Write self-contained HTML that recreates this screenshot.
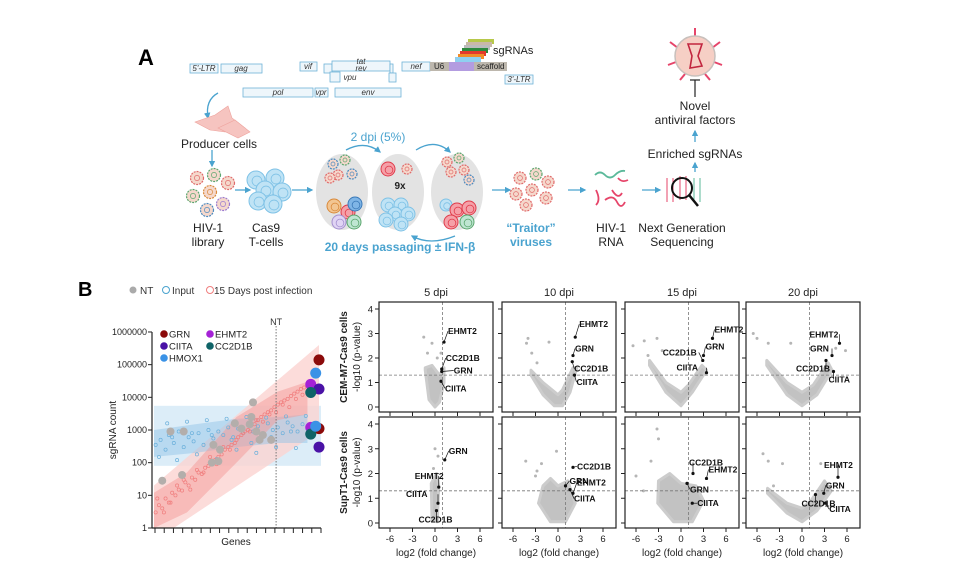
<!DOCTYPE html>
<html><head><meta charset="utf-8"><style>
html,body{margin:0;padding:0;background:#fff;}
svg{display:block;font-family:"Liberation Sans",Arial,sans-serif;}
</style></head><body>
<svg id="fig" width="960" height="565" viewBox="0 0 960 565">
<defs>
<marker id="ar" viewBox="0 0 10 10" refX="8" refY="5" markerWidth="5" markerHeight="5" orient="auto"><path d="M0,0L10,5L0,10z" fill="#4aa3cf"/></marker>
</defs>
<g id="panelA">
<text x="138" y="65" font-size="22" font-weight="bold">A</text>
<g fill="#eef6fb" stroke="#6fb3d8" stroke-width="0.8">
<rect x="190" y="64" width="28" height="9"/><rect x="221" y="64" width="41" height="9"/>
<rect x="300" y="62" width="17" height="9"/>
<rect x="324" y="64" width="8" height="9"/><rect x="332" y="61" width="58" height="10"/><rect x="390" y="64" width="3" height="9"/>
<rect x="330" y="72" width="10" height="10"/><rect x="389" y="73" width="7" height="9"/>
<rect x="243" y="88" width="70" height="9"/><rect x="315" y="88" width="13" height="9"/><rect x="335" y="88" width="66" height="9"/>
<rect x="402" y="62" width="28" height="9"/>
<rect x="505" y="75" width="28" height="9"/>
</g>
<g>
<rect x="468" y="39" width="26" height="5" fill="#b7c84a"/><rect x="466" y="42" width="26" height="5" fill="#c9b8a8"/>
<rect x="464" y="45" width="26" height="5" fill="#bbbbbb"/><rect x="462" y="48" width="26" height="5" fill="#2d8a3e"/>
<rect x="460" y="51" width="26" height="5" fill="#e23a2b"/><rect x="458" y="54" width="26" height="5" fill="#f28c28"/>
<rect x="455" y="57" width="26" height="5" fill="#8fd0f0"/>
<rect x="430" y="62" width="19" height="9" fill="#bdb7ad"/><rect x="449" y="62" width="25" height="9" fill="#b39ce0"/><rect x="474" y="62" width="33" height="9" fill="#bdb7ad"/>
</g>
<g font-size="8" font-style="italic" fill="#333" text-anchor="middle">
<text x="204" y="71">5'-LTR</text><text x="241" y="71">gag</text><text x="308" y="69">vif</text>
<text x="361" y="64">tat</text><text x="361" y="71">rev</text><text x="350" y="80">vpu</text>
<text x="278" y="95">pol</text><text x="321" y="95">vpr</text><text x="368" y="95">env</text>
<text x="416" y="69">nef</text><text x="519" y="82">3'-LTR</text>
</g>
<g font-size="8" fill="#222">
<text x="434" y="69">U6</text><text x="477" y="69">scaffold</text>
<text x="493" y="54" font-size="11">sgRNAs</text>
</g>
<g fill="none" stroke="#4aa3cf" stroke-width="1.3">
<path d="M218,93 Q205,100 208,118" marker-end="url(#ar)"/>
<path d="M212,150 L212,166" marker-end="url(#ar)"/>
<path d="M235,190 L250,190" marker-end="url(#ar)"/>
<path d="M292,190 L312,190" marker-end="url(#ar)"/>
<path d="M346,150 Q365,140 380,152" marker-end="url(#ar)"/>
<path d="M416,150 Q435,138 450,152" marker-end="url(#ar)"/>
<path d="M455,236 Q430,246 412,236" marker-end="url(#ar)"/>
<path d="M492,190 L510,190" marker-end="url(#ar)"/>
<path d="M568,190 L585,190" marker-end="url(#ar)"/>
<path d="M642,190 L660,190" marker-end="url(#ar)"/>
<path d="M695,172 L695,163" marker-end="url(#ar)"/>
<path d="M695,142 L695,131" marker-end="url(#ar)"/>
</g>
<g fill="#f6c4c0" stroke="#eea39d" stroke-width="0.6">
<path d="M195,122 L215,115 L228,106 L232,118 L245,128 L225,132 L210,130z"/>
<path d="M218,128 L235,120 L250,132 L238,138z"/>
</g>
<g id="cellsA"></g>
<g font-size="12" fill="#222" text-anchor="middle">
<text x="219" y="148">Producer cells</text>
<text x="208" y="232">HIV-1</text><text x="208" y="246">library</text>
<text x="266" y="232">Cas9</text><text x="266" y="246">T-cells</text>
<text x="611" y="232">HIV-1</text><text x="611" y="246">RNA</text>
<text x="682" y="232">Next Generation</text><text x="682" y="246">Sequencing</text>
<text x="695" y="158">Enriched sgRNAs</text>
<text x="695" y="110">Novel</text><text x="695" y="124">antiviral factors</text>
</g>
<g font-size="12" fill="#4aa3cf" text-anchor="middle">
<text x="378" y="141">2 dpi (5%)</text>
<text x="400" y="251" font-weight="bold">20 days passaging ± IFN-β</text>
<text x="531" y="232" font-weight="bold">“Traitor”</text><text x="531" y="246" font-weight="bold">viruses</text>
<text x="400" y="189" fill="#222" font-size="10" font-weight="bold">9x</text>
</g>
<g>
<line x1="695" y1="80" x2="695" y2="97" stroke="#222" stroke-width="1.2"/><line x1="690" y1="80" x2="700" y2="80" stroke="#222" stroke-width="1.2"/>
<g stroke="#e6456a" stroke-width="2"><line x1="695" y1="38" x2="695" y2="28"/><line x1="678" y1="48" x2="670" y2="42"/><line x1="712" y1="48" x2="720" y2="42"/><line x1="676" y1="62" x2="668" y2="65"/><line x1="714" y1="62" x2="722" y2="65"/><line x1="685" y1="74" x2="680" y2="80"/><line x1="705" y1="74" x2="710" y2="80"/></g>
<circle cx="695" cy="56" r="20" fill="#f6cfc5" stroke="#c8c0bc" stroke-width="1.5"/>
<path d="M688,44 L702,44 L698,56 L702,66 L690,68 L692,56z" fill="none" stroke="#c2263f" stroke-width="1.6"/>
</g>
<g>
<g stroke="#e6456a" stroke-width="1"><line x1="667" y1="178" x2="667" y2="202"/><line x1="673" y1="178" x2="673" y2="202"/><line x1="680" y1="176" x2="680" y2="200"/><line x1="686" y1="176" x2="686" y2="200"/></g>
<g stroke="#5bb99a" stroke-width="1"><line x1="694" y1="178" x2="694" y2="202"/><line x1="700" y1="178" x2="700" y2="202"/></g>
<circle cx="682" cy="188" r="10" fill="none" stroke="#111" stroke-width="2"/><line x1="689" y1="195" x2="698" y2="206" stroke="#111" stroke-width="2.5"/>
</g>
<g fill="none" stroke-width="1.8">
<path d="M595,175 q5,-5 10,0 t10,0 t10,-4" stroke="#5bb99a"/>
<path d="M596,190 q5,10 0,15 M605,200 q8,-6 12,2 t8,0 M618,178 q4,5 10,2 M612,190 q6,10 10,3" stroke="#e6456a"/>
</g>
</g>

<g id="panelB">
<text x="78" y="296" font-size="20" font-weight="bold">B</text>
<g font-size="10" fill="#333">
<circle cx="133" cy="290" r="3.5" fill="#aaa"/><text x="140" y="294">NT</text>
<circle cx="166" cy="290" r="3.5" fill="none" stroke="#4aa3cf"/><text x="172" y="294">Input</text>
<circle cx="210" cy="290" r="3.5" fill="none" stroke="#f07e7e"/><text x="214" y="294">15 Days post infection</text>
</g>
<g id="countChart"></g>
<g id="volcanoes"></g>
</g>
</svg>
<script>
// ===== Left chart data =====
const yTicks = [1,10,100,1000,10000,100000,1000000];
const yTickLabels = ["1","10","100","1000","10000","100000","1000000"];
const bandInput = [80, 5500];
const band15Upper = [[0,20],[100,400000]];
const band15Lower = [[12,1],[100,900]];
const cloud15Rank = [0,20,50,75,93,93,75,50,20,0];
const cloud15Val = [1,3,100,2000,3000,30000,15000,2500,50,12];
const cloudInputRank = [0,25,50,75,93,93,75,50,25,0];
const cloudInputVal = [150,200,300,400,400,3000,2500,2200,1500,1000];
const inputRank = [1,4,7,9,12,15,18,21,24,27,30,33,36,39,42,45,48,51,54,57,60,63,66,69,72,75,78,81,84,87,90,93,96,3,14,26,38,50,62,74,86,8,20,32,44,56,68,80,92,11,23,35,47,59,71,83,95];
const inputVal = [350,500,250,700,400,900,300,600,450,800,350,1000,550,900,700,1200,600,1100,800,1500,900,1300,700,1600,1000,1200,800,1700,1300,900,1500,1100,1400,150,120,180,130,250,200,300,280,1600,1800,2000,2200,2500,2400,2600,2700,600,800,700,500,400,600,900,1000];
const dpiRank = [1,3,5,7,9,11,13,15,17,19,21,23,25,27,29,31,33,35,37,39,41,43,45,47,49,51,53,55,57,59,61,63,65,67,69,71,73,75,77,79,81,83,85,87,89,91,93,95,2,6,10,14,18,22,26,30,34,38,42,46,50,54,58,62,66,70,74,78,82,86,90,94];
const dpiVal = [3,5,4,8,6,12,10,15,14,25,20,35,30,50,45,70,80,100,120,150,180,250,300,350,400,600,700,900,1000,1400,1500,2000,2500,3000,3500,4000,5000,6000,7000,8000,9000,11000,13000,15000,18000,20000,22000,25000,8,3,6,20,30,15,60,50,150,90,300,250,500,800,900,2000,1800,3000,3500,6000,5000,9000,12000,15000];
const ntRank = [5,10,17,18,35,36,39,40,49,53,58,59,60,62,64,66,71];
const ntVal = [28,900,42,900,100,350,110,250,1600,1100,1500,2500,7000,900,500,700,500];
const hitNames = ["GRN","EHMT2","CIITA","CC2D1B","HMOX1"];
const hitColors = ["#8b0a0a","#a522d6","#4a12a6","#0f6367","#3a92e6"];
const hitRank = [100,95,100,95,98];
const hit15 = [140000,25000,18000,14000,55000];
const hitInput = [1100,1200,300,750,1300];
const ntLineRank = 74;

// ===== Volcano data =====
const dpiLabels = ["5 dpi","10 dpi","15 dpi","20 dpi"];
const rowLabels = ["CEM-M7-Cas9 cells","SupT1-Cas9 cells"];
const xTickVals = [-6,-3,0,3,6];
const yTickVals = [0,1,2,3,4];
const fcThreshold = 1;
const pThreshold = 1.3;
const clouds = [
 [[-1.3,1.5],[-0.8,0.3],[0,0],[0.6,0.2],[1.2,1.0],[1.2,1.6],[0.6,1.3],[-0.4,1.7],[-1.3,1.6]],
 [[-3.6,1.3],[-2,0.5],[-0.5,0.05],[0.6,0.05],[1.6,0.6],[2.5,1.6],[2,1.6],[0.6,0.7],[0,0.5],[-2,1.0],[-3.6,1.5]],
 [[-4.2,1.7],[-2,0.6],[0,0.05],[1.5,0.6],[3.4,1.5],[2.8,1.7],[1,0.9],[0,0.6],[-2,1.0],[-4.2,1.9]],
 [[-4.7,1.7],[-2,0.5],[0,0.05],[2,0.5],[4,1.5],[3.5,1.8],[1.5,0.9],[0,0.6],[-2,1.0],[-4.7,1.9]],
 [[-0.5,1.6],[-0.4,0.1],[0.3,0.05],[0.5,1.5],[0.2,2.0]],
 [[-2,1.5],[-2.6,0.8],[-1,0.05],[1,0.05],[2.3,0.8],[1.3,1.7],[0,1.5],[-1,1.8]],
 [[-3,1.7],[-3.1,0.8],[-1,0.05],[1.5,0.05],[3,0.9],[2,1.5],[0,1.6],[-1.5,2.0]],
 [[-4.6,1.2],[-2,0.4],[0,0.05],[2,0.5],[3.9,1.3],[3,1.7],[1.2,0.9],[0,0.6],[-2,0.8],[-4.6,1.4]]
];
const outliersFc = [
 [-1.5,-0.4,0.3,-1,0.8],
 [-4.2,-4,-1.2,-3.5,-2.8],
 [-6.4,-4.9,-3.2,-2.5,-4.4],
 [-6.5,-6,-4.5,-1.5,4.5,5.8],
 [0,0.4,-0.2],
 [-4.3,-2.8,-2.2,-0.2,-3],
 [-6,-3,-3.2,-4,-5],
 [-5.2,-4.5,-2.6,-3.8,2.5]
];
const outliersP = [
 [2.85,2.6,2.0,2.2,2.2],
 [2.6,2.8,2.65,2.2,1.8],
 [2.5,2.7,2.8,2.3,2.1],
 [3.0,2.8,2.6,2.6,2.4,2.3],
 [3.0,2.7,2.2],
 [2.5,2.1,2.4,2.9,1.9],
 [1.9,3.4,3.8,2.5,1.3],
 [2.8,2.5,2.4,1.5,2.4]
];
const genes = ["EHMT2","GRN","CC2D1B","CIITA"];
const geneFc = [
 [1.2,0.9,0.9,0.8],[2.3,2.0,1.9,2.2],[4.2,3.0,2.9,3.4],[5.0,4.0,3.2,4.2],
 [0.5,1.3,0.2,0.4],[2.0,1.0,2.0,1.6],[3.4,0.8,1.6,1.5],[4.8,2.9,1.8,3.1]
];
const geneP = [
 [2.65,1.45,1.55,1.05],[2.85,2.1,1.85,1.3],[2.8,2.1,1.9,1.4],[2.6,2.1,1.9,1.45],
 [1.45,2.55,0.5,0.8],[1.2,1.5,2.25,1.35],[1.8,1.6,2.0,0.8],[1.85,1.2,1.15,0.8]
];
const labDx = [
 [4,12,4,4],[4,2,2,2],[2,2,-40,-30],[-30,-22,-30,-5],
 [-24,4,-18,-32],[4,4,4,4],[2,3,-4,5],[-14,2,-14,4]
];
const labDy = [
 [-8,2,-8,10],[-10,-4,10,10],[-6,-6,-5,-2],[-6,-4,11,11],
 [-8,-6,12,-6],[-8,-2,2,12],[-6,9,-8,3],[-9,-5,12,9]
];

const NS="http://www.w3.org/2000/svg";
function mk(tag, attrs, parent){const e=document.createElementNS(NS,tag);for(const k in attrs)e.setAttribute(k,attrs[k]);parent.appendChild(e);return e;}

(function(){
 const g=document.getElementById('countChart');
 const X0=152,X1=321,Y0=528,per=32.67;
 const xs=r=>X0+(r/100)*(X1-X0-4)+2;
 const ys=v=>Y0-per*Math.log10(v);
 let e=mk('rect',{x:X0+2,y:ys(bandInput[1]),width:X1-X0-2,height:ys(bandInput[0])-ys(bandInput[1]),fill:'#dcedf8'},g);
 
 
 const pts=[[xs(band15Upper[0][0]),ys(band15Upper[0][1])],[xs(band15Upper[1][0]),ys(band15Upper[1][1])],[xs(band15Lower[1][0]),ys(band15Lower[1][1])],[xs(band15Lower[0][0]),ys(band15Lower[0][1])],[xs(0),ys(1)]];
 e=mk('polygon',{points:pts.map(p=>p.join(',')).join(' '),fill:'#fbd3d1','fill-opacity':0.8},g);
 
 
 e=mk('polygon',{points:cloudInputRank.map((r,i)=>xs(r)+','+ys(cloudInputVal[i])).join(' '),fill:'#8cc2e6','fill-opacity':0.45},g);
 
 
 e=mk('polygon',{points:cloud15Rank.map((r,i)=>xs(r)+','+ys(cloud15Val[i])).join(' '),fill:'#f49a98','fill-opacity':0.5},g);
 
 
 inputRank.forEach((r,i)=>{const c=mk('circle',{cx:xs(r),cy:ys(inputVal[i]),r:1.6,fill:'none',stroke:'#6bb0db','stroke-width':0.7},g);
  
  });
 dpiRank.forEach((r,i)=>{const c=mk('circle',{cx:xs(r),cy:ys(dpiVal[i]),r:1.6,fill:'none',stroke:'#f07e7e','stroke-width':0.7},g);
  
  });
 ntRank.forEach((r,i)=>{const c=mk('circle',{cx:xs(r),cy:ys(ntVal[i]),r:4,fill:'#b3aeab'},g);
  
  });
 e=mk('line',{x1:xs(ntLineRank),x2:xs(ntLineRank),y1:326,y2:Y0,stroke:'#777','stroke-dasharray':'1.5,1.5'},g);
 
 
 e=mk('text',{x:xs(ntLineRank),y:325,'font-size':9,'text-anchor':'middle',fill:'#333'},g);e.textContent='NT';
 
 
 hitNames.forEach((n,i)=>{
  let c=mk('circle',{cx:xs(hitRank[i]),cy:ys(hit15[i]),r:5.5,fill:hitColors[i]},g);
  
  
  c=mk('circle',{cx:xs(hitRank[i]),cy:ys(hitInput[i]),r:5.5,fill:hitColors[i]},g);
  
  
 });
 e=mk('line',{x1:X0,x2:X0,y1:ys(1e6),y2:Y0,stroke:'#222','stroke-width':1.2},g);
 
 
 e=mk('line',{x1:X0,x2:X1,y1:Y0,y2:Y0,stroke:'#222','stroke-width':1.2},g);
 
 
 yTicks.forEach((v,i)=>{mk('line',{x1:X0-4,x2:X0,y1:ys(v),y2:ys(v),stroke:'#222'},g);
  const t=mk('text',{x:X0-5,y:ys(v)+3,'font-size':9,'text-anchor':'end',fill:'#222'},g);t.textContent=yTickLabels[i];
  
  });
 for(let k=0;k<=18;k++){const x=X0+3+k*(X1-X0-3)/18;mk('line',{x1:x,x2:x,y1:Y0,y2:Y0+5,stroke:'#222'},g);}
 e=mk('text',{x:236,y:545,'font-size':10,'text-anchor':'middle',fill:'#222'},g);e.textContent='Genes';
 
 
 e=mk('text',{x:0,y:0,'font-size':10,'text-anchor':'middle',fill:'#222',transform:'translate(116,430) rotate(-90)'},g);e.textContent='sgRNA count';
 
 
 const lx=[160,206],ly=[334,346,358];
 const order=[[0,0],[1,0],[0,1],[1,1],[0,2]];const names=["GRN","EHMT2","CIITA","CC2D1B","HMOX1"];
 [0,1,2,3,4].forEach((h,i)=>{const o=order[i];
  const c=mk('circle',{cx:lx[o[0]]+4,cy:ly[o[1]],r:3.8,fill:hitColors[h]},g);
  
  
  const t=mk('text',{x:lx[o[0]]+9,y:ly[o[1]]+3.5,'font-size':9.5,fill:'#222'},g);t.textContent=names[i];
  
  });
})();

(function(){
 const g=document.getElementById('volcanoes');
 const PX=[379,502,625,746],PW=114;
 const rows=[{top:302,bot:412,y0:407,per:24.5},{top:417,bot:528,y0:523,per:24.75}];
 const perX=7.5;
 dpiLabels.forEach((l,c)=>{const t=mk('text',{x:PX[c]+PW/2,y:296,'font-size':11,'text-anchor':'middle',fill:'#222'},g);t.textContent=l;
  
  });
 rows.forEach((R,r)=>{
  let t=mk('text',{x:0,y:0,'font-size':10,'font-weight':'bold','text-anchor':'middle',fill:'#222',transform:`translate(347,${(R.top+R.bot)/2}) rotate(-90)`},g);t.textContent=rowLabels[r];
  
  
  t=mk('text',{x:0,y:0,'font-size':10,'text-anchor':'middle',fill:'#222',transform:`translate(360,${(R.top+R.bot)/2}) rotate(-90)`},g);t.textContent='-log10 (p-value)';
  
  
  for(let c=0;c<4;c++){
   const k=r*4+c;
   const xs=v=>PX[c]+PW/2+v*perX-1;
   const ys=v=>R.y0-v*R.per;
   const pg=mk('g',{},g);
   
   
   const cl=mk('polygon',{points:clouds[k].map(p=>xs(p[0])+','+ys(p[1])).join(' '),fill:'#c2c2c2',stroke:'#cccccc','stroke-width':3,'stroke-linejoin':'round'},pg);
   
   
   outliersFc[k].forEach((f,i)=>{const d=mk('circle',{cx:xs(f),cy:ys(outliersP[k][i]),r:1.5,fill:'#b5b5b5'},pg);
    
    });
   let ln=mk('line',{x1:xs(fcThreshold),x2:xs(fcThreshold),y1:R.top,y2:R.bot,stroke:'#777','stroke-dasharray':'3,2','stroke-width':0.8},pg);
   
   
   ln=mk('line',{x1:PX[c],x2:PX[c]+PW,y1:ys(pThreshold),y2:ys(pThreshold),stroke:'#777','stroke-dasharray':'3,2','stroke-width':0.8},pg);
   
   
   genes.forEach((gn,i)=>{
    const px=xs(geneFc[k][i]),py=ys(geneP[k][i]);
    const d=mk('circle',{cx:px,cy:py,r:1.6,fill:'#111'},pg);
    
    
    const lx=px+labDx[k][i],ly=py+labDy[k][i];
    mk('line',{x1:px,y1:py,x2:lx+(labDx[k][i]<0?Math.min(36,-labDx[k][i]):0),y2:ly-3,stroke:'#111','stroke-width':0.7},pg);
    const tt=mk('text',{x:lx,y:ly,'font-size':8.5,'font-weight':'bold',fill:'#111'},pg);tt.textContent=gn;
    
    
   });
   const fr=mk('rect',{x:PX[c],y:R.top,width:PW,height:R.bot-R.top,fill:'none',stroke:'#222','stroke-width':1.2},pg);
   
   
   yTickVals.forEach(v=>{mk('line',{x1:PX[c]-4,x2:PX[c],y1:ys(v),y2:ys(v),stroke:'#222'},pg);
    if(c===0){const yt=mk('text',{x:PX[c]-6,y:ys(v)+3.5,'font-size':9.5,'text-anchor':'end',fill:'#222'},pg);yt.textContent=v;
     
     }});
   xTickVals.forEach(v=>{mk('line',{x1:xs(v),x2:xs(v),y1:R.bot,y2:R.bot+4,stroke:'#222'},pg);
    if(r===1){const xt=mk('text',{x:xs(v),y:R.bot+14,'font-size':9.5,'text-anchor':'middle',fill:'#222'},pg);xt.textContent=v;
     
     }});
   if(r===1){const at=mk('text',{x:PX[c]+PW/2,y:556,'font-size':10,'text-anchor':'middle',fill:'#222'},pg);at.textContent='log2 (fold change)';
    
    }
  }
 });
})();

(function(){
 const g=document.getElementById('cellsA');
 const ovals=[[342,192],[398,192],[457,192]];
 ovals.forEach(o=>{const e=mk('ellipse',{cx:o[0],cy:o[1],rx:26,ry:38,fill:'#e3e3e3'},g);
  
  });
 function tcell(x,y,r,fill,stroke){const e=mk('circle',{cx:x,cy:y,r:r,fill:fill,stroke:stroke,'stroke-width':1},g);mk('circle',{cx:x+1,cy:y+1,r:r*0.55,fill:'none',stroke:stroke,'stroke-width':0.8},g);
  
  }
 function virus(x,y,col,r){r=r||5;const e=mk('circle',{cx:x,cy:y,r:r,fill:'#f5d8cc',stroke:col,'stroke-width':1.2,'stroke-dasharray':'2,1'},g);mk('circle',{cx:x,cy:y,r:r*0.4,fill:'none',stroke:col,'stroke-width':0.7},g);
  
  }
 [[197,178,'#e06a6a'],[214,175,'#5ba66e'],[228,183,'#e06a6a'],[193,196,'#5ba66e'],[210,192,'#d9893a'],[223,204,'#9a7ad0'],[207,210,'#4a8ac0']].forEach(v=>virus(v[0],v[1],v[2],6.5));
 [[256,180],[275,178],[265,190],[282,192],[258,201],[273,204]].forEach(p=>tcell(p[0],p[1],9,'#bfe3f5','#7fc2e6'));
 [[333,164,'#4a8ac0'],[345,160,'#5ba66e'],[338,175,'#e06a6a'],[352,174,'#4a8ac0'],[330,178,'#e06a6a']].forEach(v=>virus(...v));
 [[334,206,'#f2c592','#d9893a'],[348,212,'#f5a0a8','#e03a4a'],[355,204,'#7fb5e6','#3a79b8'],[339,222,'#e0d4f4','#a490d0'],[354,222,'#bfe6d2','#5ba66e']].forEach(p=>tcell(p[0],p[1],7,p[2],p[3]));
 tcell(388,169,7,'#f5a0a8','#e03a4a');virus(407,169,'#e06a6a');
 [[388,205],[401,205],[395,214],[408,214],[386,220],[401,224]].forEach(p=>tcell(p[0],p[1],7,'#bfe3f5','#7fc2e6'));
 [[447,162,'#e06a6a'],[459,158,'#5ba66e'],[451,172,'#e06a6a'],[464,170,'#e06a6a'],[469,180,'#4a8ac0']].forEach(v=>virus(...v));
 tcell(446,205,6,'#bfe3f5','#7fc2e6');
 [[457,210],[469,208],[451,222],[467,222]].forEach((p,i)=>tcell(p[0],p[1],7,i==3?'#bfe6d2':'#f5a0a8',i==3?'#5ba66e':'#e03a4a'));
 [[520,178,'#e06a6a'],[536,174,'#5ba66e'],[548,182,'#e06a6a'],[516,194,'#e06a6a'],[532,190,'#e06a6a'],[546,198,'#e06a6a'],[526,205,'#e06a6a']].forEach(v=>virus(v[0],v[1],v[2],6));
})();
</script>
</body></html>
